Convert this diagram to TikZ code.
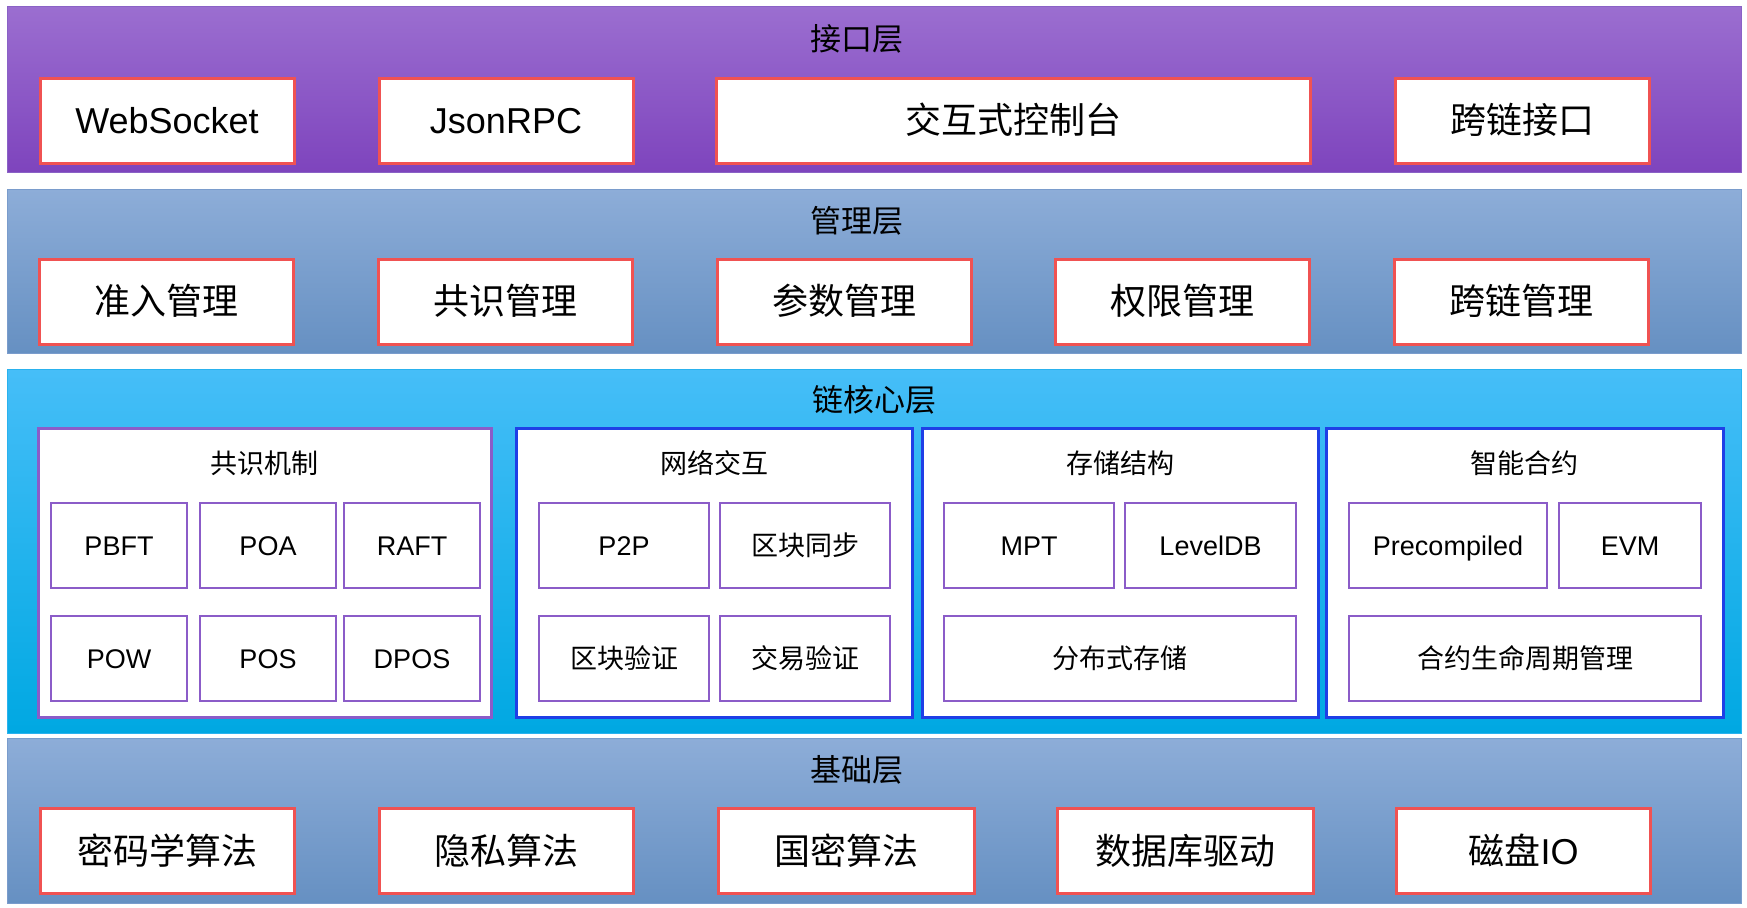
\documentclass[tikz,border=0pt]{standalone}
\usepackage{fontspec}
\setmainfont{Liberation Sans}
\newfontfamily\cjk{Noto Sans CJK SC}
\usepackage{tikz}
\usetikzlibrary{positioning}
\usepackage{xcolor}
\definecolor{purpletop}{HTML}{9B6ED0}
\definecolor{purplebot}{HTML}{7E44BD}
\definecolor{purpleedge}{HTML}{8A62C6}
\definecolor{greytop}{HTML}{8DADD8}
\definecolor{greybot}{HTML}{6690C2}
\definecolor{greyedge}{HTML}{7A9CCC}
\definecolor{cyantop}{HTML}{46BEF8}
\definecolor{cyanmid}{HTML}{00B4F8}
\definecolor{cyanbot}{HTML}{00A8E2}
\definecolor{cyanedge}{HTML}{2AB2EE}
\definecolor{boxred}{HTML}{F05252}
\definecolor{panelblue}{HTML}{1F3FE6}
\definecolor{itempurple}{HTML}{8B5CC8}
\newcommand{\zh}[1]{{\cjk #1}}
\tikzset{
	layerbox/.style={rectangle, inner sep=0pt, outer sep=0pt},
	bandbox/.style={draw=boxred, line width=3pt, fill=white, minimum width=254pt, minimum height=85pt, inner sep=0pt, text height=26pt, text depth=0pt, font=\fontsize{36}{40}\selectfont},
	panelbox/.style={draw=panelblue, line width=3pt, fill=white, minimum height=289pt, inner sep=0pt},
	itembox/.style={draw=itempurple, line width=2.5pt, fill=white, minimum height=85pt, inner sep=0pt, text height=19.5pt, text depth=0pt, font=\fontsize{27}{30}\selectfont},
	layertitle/.style={font=\fontsize{31}{34}\selectfont},
	paneltitle/.style={font=\fontsize{27}{30}\selectfont}
}

\begin{document}
\begin{tikzpicture}[x=1pt, y=-1pt]
			\useasboundingbox (0,0) rectangle (1747,907);
			\fill[white] (0,0) rectangle (1747,907);
			% layers
			\shade[top color=purpletop, bottom color=purplebot, draw=purpleedge, line width=1pt] (7,7) rectangle (1741,172);
			\shade[top color=greytop, bottom color=greybot, draw=greyedge, line width=1pt] (7,189) rectangle (1741,353);
			\shade[top color=cyantop, middle color=cyanmid, bottom color=cyanbot, draw=cyanedge, line width=1pt] (7,369) rectangle (1741,733);
			\shade[top color=greytop, bottom color=greybot, draw=greyedge, line width=1pt] (7,738) rectangle (1741,903);
			% interface layer
			\node[layertitle] (apiT) at (857,39) {\zh{接口层}};
			\node[bandbox] (ws) at (167,120.5) {WebSocket};
			\node[bandbox] (rpc) at (506,120.5) {JsonRPC};
			\node[bandbox, minimum width=594pt] (console) at (1013,120.5) {\zh{交互式控制台}};
			\node[bandbox] (xapi) at (1522,120.5) {\zh{跨链接口}};
			% management layer
			\node[layertitle] (mgmtT) at (857,221) {\zh{管理层}};
			\node[bandbox] (admit) at (166,301.5) {\zh{准入管理}};
			\node[bandbox] (consm) at (505.5,301.5) {\zh{共识管理}};
			\node[bandbox] (param) at (844,301.5) {\zh{参数管理}};
			\node[bandbox] (perm) at (1182.5,301.5) {\zh{权限管理}};
			\node[bandbox] (xmgmt) at (1521.5,301.5) {\zh{跨链管理}};
			% chain core layer
			\node[layertitle] (coreT) at (874,400) {\zh{链核心层}};
			\node[panelbox, draw=itempurple, minimum width=453pt] (consP) at (264.5,572.5) {};
			\node[panelbox, minimum width=396pt] (netP) at (714,572.5) {};
			\node[panelbox, minimum width=396pt] (storP) at (1120,572.5) {};
			\node[panelbox, minimum width=397pt] (scP) at (1524.5,572.5) {};
			\node[paneltitle] (consT) at (264.5,463) {\zh{共识机制}};
			\node[paneltitle] (netT) at (714,463) {\zh{网络交互}};
			\node[paneltitle] (storT) at (1120,463) {\zh{存储结构}};
			\node[paneltitle] (scT) at (1524.5,463) {\zh{智能合约}};
			\node[itembox, minimum width=136pt] (pbft) at (119,545.5) {PBFT};
			\node[itembox, minimum width=136pt] (poa) at (268,545.5) {POA};
			\node[itembox, minimum width=136pt] (raft) at (412,545.5) {RAFT};
			\node[itembox, minimum width=136pt] (pow) at (119,658.5) {POW};
			\node[itembox, minimum width=136pt] (pos) at (268,658.5) {POS};
			\node[itembox, minimum width=136pt] (dpos) at (412,658.5) {DPOS};
			\node[itembox, minimum width=170pt] (ptp) at (624,545.5) {P2P};
			\node[itembox, minimum width=170pt] (bsync) at (805,545.5) {\zh{区块同步}};
			\node[itembox, minimum width=170pt] (bver) at (624,658.5) {\zh{区块验证}};
			\node[itembox, minimum width=170pt] (tver) at (805,658.5) {\zh{交易验证}};
			\node[itembox, minimum width=170pt] (mpt) at (1029,545.5) {MPT};
			\node[itembox, minimum width=171pt] (ldb) at (1210.5,545.5) {LevelDB};
			\node[itembox, minimum width=352pt] (dstor) at (1120,658.5) {\zh{分布式存储}};
			\node[itembox, minimum width=198pt] (precomp) at (1448,545.5) {Precompiled};
			\node[itembox, minimum width=142pt] (evm) at (1630,545.5) {EVM};
			\node[itembox, minimum width=352pt] (lifecyc) at (1525,658.5) {\zh{合约生命周期管理}};
			% base layer
			\node[layertitle] (baseT) at (857,770) {\zh{基础层}};
			\node[bandbox] (crypto) at (167,851) {\zh{密码学算法}};
			\node[bandbox] (priv) at (506,851) {\zh{隐私算法}};
			\node[bandbox, minimum width=256pt] (gm) at (846,851) {\zh{国密算法}};
			\node[bandbox, minimum width=256pt] (dbdrv) at (1185,851) {\zh{数据库驱动}};
			\node[bandbox] (disk) at (1523.5,851) {\zh{磁盘}IO};
		\end{tikzpicture}
\end{document}
